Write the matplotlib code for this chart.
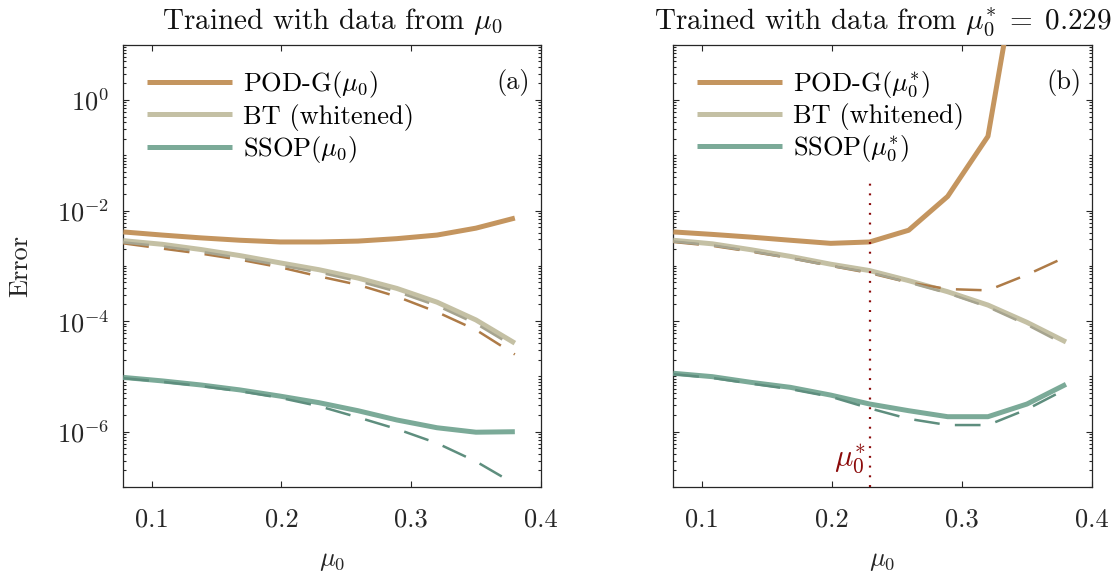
import numpy as np
import matplotlib
matplotlib.use("Agg")
import matplotlib.pyplot as plt
from matplotlib.ticker import LogLocator, NullFormatter, FixedLocator

plt.rcParams['font.family'] = ['cmr10']
plt.rcParams['mathtext.fontset'] = 'cm'
plt.rcParams['axes.formatter.use_mathtext'] = True
plt.rcParams['font.size'] = 19

# ---------------- data ----------------
mu0 = [0.078, 0.108, 0.138, 0.168, 0.199, 0.229, 0.259, 0.289, 0.320, 0.350, 0.380]
mu_star = 0.229

# panel (a): trained with data from mu0
podg_a = [4.1e-3, 3.6e-3, 3.2e-3, 2.9e-3, 2.7e-3, 2.7e-3, 2.8e-3, 3.1e-3, 3.6e-3, 4.8e-3, 7.3e-3]
podg_a_dash = [2.55e-3, 2.05e-3, 1.66e-3, 1.29e-3, 9.4e-4, 6.45e-4, 4.54e-4, 2.78e-4, 1.46e-4, 6.95e-5, 2.5e-5]
bt_a = [2.85e-3, 2.45e-3, 1.97e-3, 1.53e-3, 1.13e-3, 8.5e-4, 6.0e-4, 3.9e-4, 2.2e-4, 1.05e-4, 4.0e-5]
bt_a_dash = [2.65e-3, 2.25e-3, 1.8e-3, 1.38e-3, 1.02e-3, 7.6e-4, 5.3e-4, 3.4e-4, 1.9e-4, 9.0e-5, 3.4e-5]
ssop_a = [9.6e-6, 8.3e-6, 7.0e-6, 5.7e-6, 4.4e-6, 3.35e-6, 2.4e-6, 1.63e-6, 1.18e-6, 9.8e-7, 1.0e-6]
ssop_a_dash = [9.3e-6, 8.0e-6, 6.7e-6, 5.4e-6, 4.1e-6, 2.9e-6, 1.82e-6, 1.12e-6, 6.2e-7, 2.9e-7, 1.13e-7]

# panel (b): trained with data from mu0* = 0.229
podg_b = [4.1e-3, 3.7e-3, 3.3e-3, 2.9e-3, 2.55e-3, 2.7e-3, 4.4e-3, 1.8e-2, 2.2e-1, 2.6e3, 1.0e5]
podg_b_dash = [2.7e-3, 2.3e-3, 1.8e-3, 1.38e-3, 1.0e-3, 7.4e-4, 5.0e-4, 3.8e-4, 3.6e-4, 6.9e-4, 1.45e-3]
bt_b = [2.9e-3, 2.5e-3, 1.95e-3, 1.48e-3, 1.07e-3, 8.2e-4, 5.4e-4, 3.4e-4, 1.95e-4, 9.5e-5, 4.2e-5]
bt_b_dash = [2.75e-3, 2.35e-3, 1.83e-3, 1.38e-3, 1.0e-3, 7.6e-4, 5.0e-4, 3.2e-4, 1.8e-4, 8.6e-5, 3.7e-5]
ssop_b = [1.14e-5, 9.9e-6, 7.8e-6, 6.35e-6, 4.6e-6, 3.17e-6, 2.4e-6, 1.87e-6, 1.87e-6, 3.17e-6, 7.2e-6]
ssop_b_dash = [1.1e-5, 9.4e-6, 7.4e-6, 5.9e-6, 4.3e-6, 2.65e-6, 1.71e-6, 1.32e-6, 1.32e-6, 2.54e-6, 5.9e-6]

titles = [r'Trained with data from $\mu_0$', r'Trained with data from $\mu_0^{*}\;=\;0.229$']
panel_tags = ['(a)', '(b)']
legend_labels = [
    [r'POD-G($\mu_0$)', 'BT (whitened)', r'SSOP($\mu_0$)'],
    [r'POD-G($\mu_0^{*}$)', 'BT (whitened)', r'SSOP($\mu_0^{*}$)'],
]
xticks = [0.1, 0.2, 0.3, 0.4]
yticks = [1e-6, 1e-4, 1e-2, 1e0]

# ---------------- style ----------------
c_podg = '#C4955F'
c_bt = '#C4C0A4'
c_ssop = '#7BAA98'
c_podg_d = '#AE7B47'
c_bt_d = '#A6A48F'
c_ssop_d = '#5E8E7E'
c_axis = '#262626'
c_red = '#8B0A0A'

plt.rcParams['lines.scale_dashes'] = False
dash = (18.5, 11)

fig = plt.figure(figsize=(11.12, 5.75), dpi=100)
ax_a = fig.add_axes([0.1109, 0.1530, 0.3754, 0.7694])
ax_b = fig.add_axes([0.6055, 0.1530, 0.3765, 0.7694])

panels = [
    (ax_a, podg_a, podg_a_dash, bt_a, bt_a_dash, ssop_a, ssop_a_dash),
    (ax_b, podg_b, podg_b_dash, bt_b, bt_b_dash, ssop_b, ssop_b_dash),
]

for i, (ax, pg, pgd, bt, btd, ss, ssd) in enumerate(panels):
    ax.set_yscale('log')
    h1, = ax.plot(mu0, pg, color=c_podg, lw=3.6, solid_capstyle='butt', zorder=3)
    h2, = ax.plot(mu0, bt, color=c_bt, lw=3.6, solid_capstyle='butt', zorder=3)
    h3, = ax.plot(mu0, ss, color=c_ssop, lw=3.6, solid_capstyle='butt', zorder=3)
    ax.plot(mu0, pgd, color=c_podg_d, lw=1.8, dashes=dash, zorder=4)
    ax.plot(mu0, btd, color=c_bt_d, lw=1.8, dashes=dash, zorder=4)
    ax.plot(mu0, ssd, color=c_ssop_d, lw=1.8, dashes=dash, zorder=4)

    ax.set_xlim(0.078, 0.4)
    ax.set_ylim(1e-7, 1e1)
    ax.set_xticks(xticks)
    ax.set_xticklabels([f'{t:.1f}' for t in xticks])
    ax.yaxis.set_major_locator(FixedLocator(yticks))
    ax.yaxis.set_minor_locator(LogLocator(base=10, subs=np.arange(1, 10), numticks=30))
    ax.yaxis.set_minor_formatter(NullFormatter())
    if i == 1:
        ax.set_yticklabels([])

    ax.tick_params(which='both', direction='in', top=True, right=True,
                   color=c_axis, labelcolor=c_axis, width=0.8)
    ax.tick_params(which='major', length=4.5)
    ax.tick_params(which='minor', length=2.5)
    ax.tick_params(axis='x', pad=15)
    ax.tick_params(axis='y', pad=10)
    for sp in ax.spines.values():
        sp.set_color(c_axis)
        sp.set_linewidth(0.9)

    ax.set_xlabel(r'$\mu_0$', color=c_axis, labelpad=13)
    ax.set_title(titles[i], color='#111111', pad=11, fontsize=21)
    ax.text(0.975, 0.915, panel_tags[i], transform=ax.transAxes,
            ha='right', va='center', color='#111111')
    ax.legend([h1, h2, h3], legend_labels[i], loc='upper left',
              bbox_to_anchor=(0.0, 0.998), frameon=False,
              handlelength=3.2, handletextpad=0.45, labelspacing=0.13,
              borderaxespad=0.5, fontsize=19)

ax_a.set_ylabel('Error', color=c_axis, labelpad=18)

# mu0* marker in panel (b)
ax_b.axvline(mu_star, ymin=0, ymax=0.70, color=c_red, lw=1.6,
             dashes=(1.4, 5.6), zorder=5)
ax_b.text(mu_star - 0.003, 3.2e-7, r'$\mu_0^{*}$', color=c_red,
          ha='right', va='center', fontsize=22)

fig.savefig('out.png', dpi=100)
